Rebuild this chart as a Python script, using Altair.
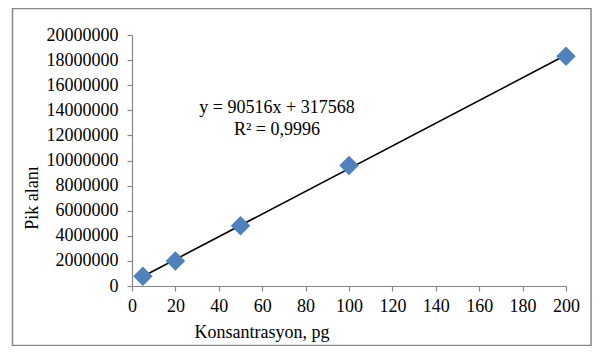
import altair as alt
import pandas as pd

# data
konsantrasyon = [5, 20, 50, 100, 200]
pik_alani = [770000, 2000000, 4800000, 9600000, 18300000]

x_ticks = [0, 20, 40, 60, 80, 100, 120, 140, 160, 180, 200]
y_ticks = [0, 2000000, 4000000, 6000000, 8000000, 10000000, 12000000,
           14000000, 16000000, 18000000, 20000000]

eq_line1 = "y = 90516x + 317568"
eq_line2 = "R² = 0,9996"
x_title = "Konsantrasyon, pg"
y_title = "Pik alanı"

df = pd.DataFrame({"x": konsantrasyon, "y": pik_alani})

FONT = "Liberation Serif, Times New Roman, serif"
W, H = 434, 251

xs = alt.Scale(domain=[0, 200], nice=False, zero=False)
ys = alt.Scale(domain=[0, 20000000], nice=False)
x_axis = alt.Axis(values=x_ticks, title=None, labelPadding=6,
                  labelOverlap=False, labelFlush=False, tickCount=11)
y_axis = alt.Axis(values=y_ticks, format="d", title=None, labelPadding=9,
                  labelOverlap=False, labelFlush=False, tickCount=11)

base = alt.Chart(df)

line = base.mark_line(color="black", strokeWidth=1.6).encode(
    x=alt.X("x:Q", scale=xs, axis=x_axis),
    y=alt.Y("y:Q", scale=ys, axis=y_axis),
).transform_regression("x", "y", method="linear", extent=[5, 200])

points = base.mark_point(shape="diamond", filled=True, size=380, color="#4F81BD", opacity=1).encode(
    x=alt.X("x:Q", scale=xs, axis=x_axis),
    y=alt.Y("y:Q", scale=ys, axis=y_axis),
)


def label(text, x, y, angle=None):
    kw = dict(font=FONT, fontSize=18, color="black", align="center", baseline="middle")
    if angle is not None:
        kw["angle"] = angle
    return alt.Chart(pd.DataFrame({"t": [text]})).mark_text(**kw).encode(
        text="t:N", x=alt.value(x), y=alt.value(y)
    )


eq1 = label(eq_line1, 145, 73)
eq2 = label(eq_line2, 145, 95)
xt = label(x_title, 130, 298)
yt = label(y_title, -99, 163, angle=270)

border = alt.Chart(pd.DataFrame({"a": [0]})).mark_rect(
    fill=None, stroke="#868686", strokeWidth=1.5
).encode(
    x=alt.value(-119.5), x2=alt.value(459), y=alt.value(-26.5), y2=alt.value(310.5)
)

chart = alt.layer(border, line, points, eq1, eq2, xt, yt).properties(
    width=W, height=H,
    autosize="none",
    padding={"left": 124, "top": 27, "right": 26, "bottom": 60},
).configure_view(stroke=None).configure_axis(
    labelFont=FONT, labelFontSize=18, labelColor="black",
    domainColor="#868686", tickColor="#868686", domainWidth=1.2, tickWidth=1.2,
    tickSize=5, grid=False, labelBound=False,
)

chart.save("out.html", embed_options={"renderer": "svg", "actions": False})
